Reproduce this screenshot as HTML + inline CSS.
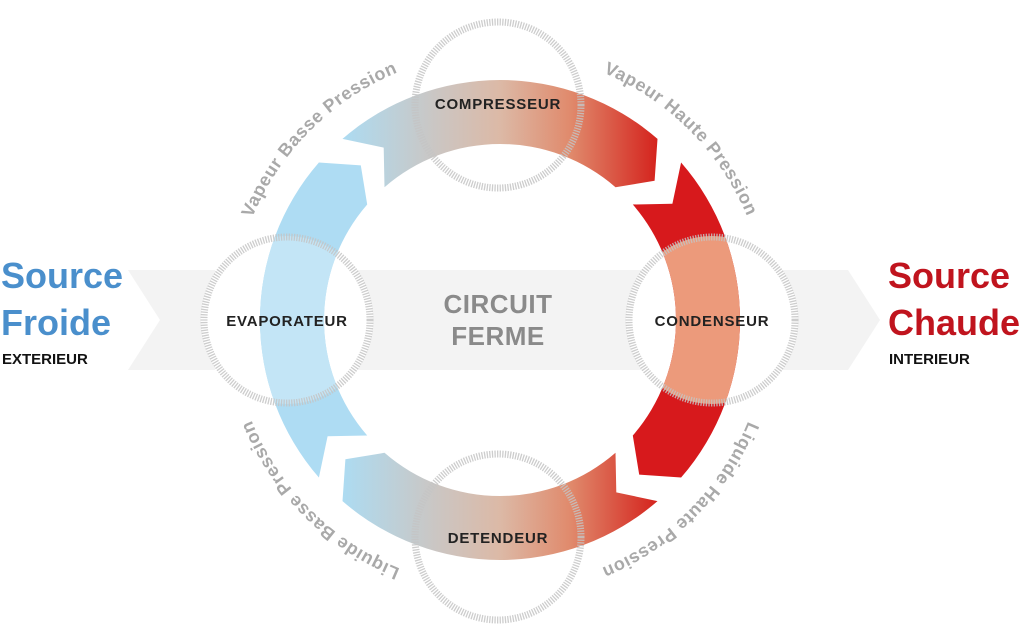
<!DOCTYPE html>
<html><head><meta charset="utf-8"><style>
html,body{margin:0;padding:0;background:#fff}
svg{display:block}
text{font-family:"Liberation Sans",sans-serif;font-weight:bold}
</style></head><body>
<svg width="1024" height="643" viewBox="0 0 1024 643" xmlns="http://www.w3.org/2000/svg">
<defs>
<linearGradient id="gt" gradientUnits="userSpaceOnUse" x1="340" y1="0" x2="660" y2="0">
<stop offset="0" stop-color="#acdcf3"/><stop offset="0.3" stop-color="#cbc6c3"/><stop offset="0.5" stop-color="#dcb9a6"/><stop offset="0.72" stop-color="#e08a6c"/><stop offset="1" stop-color="#d4201b"/></linearGradient>
<linearGradient id="gb" gradientUnits="userSpaceOnUse" x1="340" y1="0" x2="660" y2="0">
<stop offset="0" stop-color="#acdcf3"/><stop offset="0.3" stop-color="#cbc6c3"/><stop offset="0.5" stop-color="#dcb9a6"/><stop offset="0.72" stop-color="#e08a6c"/><stop offset="1" stop-color="#d4201b"/></linearGradient>
<clipPath id="cl"><path d="M318.9,477.5 A240,240 0 0 1 318.9,162.5 L360.8,165.4 L367.2,204.5 A176,176 0 0 0 367.2,435.5 L327.6,436.3 Z"/></clipPath>
<clipPath id="cr"><path d="M681.1,162.5 A240,240 0 0 1 681.1,477.5 L639.2,474.6 L632.8,435.5 A176,176 0 0 0 632.8,204.5 L672.4,203.7 Z"/></clipPath>
<path id="p1" d="M236.1,273.5 A268,268 0 0 1 453.5,56.1"/>
<path id="p2" d="M546.5,56.1 A268,268 0 0 1 763.9,273.5"/>
<path id="p3" d="M763.9,366.5 A268,268 0 0 1 546.5,583.9"/>
<path id="p4" d="M453.5,583.9 A268,268 0 0 1 236.1,366.5"/>
</defs>
<polygon points="128,270 215,270 215,370 128,370 160,320" fill="#f3f3f3"/>
<rect x="330" y="270" width="340" height="100" fill="#f3f3f3"/>
<polygon points="780,270 848,270 880,320 848,370 780,370" fill="#f3f3f3"/>
<g fill="#fff">
<circle cx="498" cy="105" r="86"/><circle cx="287" cy="320" r="86"/><circle cx="712" cy="320" r="86"/><circle cx="498" cy="537" r="86"/>
</g>
<path d="M318.9,477.5 A240,240 0 0 1 318.9,162.5 L360.8,165.4 L367.2,204.5 A176,176 0 0 0 367.2,435.5 L327.6,436.3 Z" fill="#aedcf3"/>
<path d="M342.5,138.9 A240,240 0 0 1 657.5,138.9 L654.6,180.8 L615.5,187.2 A176,176 0 0 0 384.5,187.2 L383.7,147.6 Z" fill="url(#gt)"/>
<path d="M681.1,162.5 A240,240 0 0 1 681.1,477.5 L639.2,474.6 L632.8,435.5 A176,176 0 0 0 632.8,204.5 L672.4,203.7 Z" fill="#d7191c"/>
<path d="M657.5,501.1 A240,240 0 0 1 342.5,501.1 L345.4,459.2 L384.5,452.8 A176,176 0 0 0 615.5,452.8 L616.3,492.4 Z" fill="url(#gb)"/>
<circle cx="287" cy="320" r="84" fill="#c3e5f6" clip-path="url(#cl)"/>
<circle cx="712" cy="320" r="84" fill="#ec9a7b" clip-path="url(#cr)"/>
<g fill="none" stroke="#c4c4c4" stroke-width="7" stroke-dasharray="1.3 1.3" opacity="0.85">
<circle cx="498" cy="105" r="83"/><circle cx="287" cy="320" r="83"/><circle cx="712" cy="320" r="83"/><circle cx="498" cy="537" r="83"/>
</g>
<g font-size="15" fill="#222" text-anchor="middle" letter-spacing="0.8">
<text x="498" y="109">COMPRESSEUR</text>
<text x="287" y="326">EVAPORATEUR</text>
<text x="712" y="326">CONDENSEUR</text>
<text x="498" y="543">DETENDEUR</text>
</g>
<g font-size="26" fill="#8a8a8a" text-anchor="middle" letter-spacing="0.5">
<text x="498" y="313">CIRCUIT</text>
<text x="498" y="345">FERME</text>
</g>
<g font-size="18" fill="#a9a9a9" letter-spacing="0.6">
<text><textPath href="#p1" startOffset="50%" text-anchor="middle">Vapeur Basse Pression</textPath></text>
<text><textPath href="#p2" startOffset="50%" text-anchor="middle">Vapeur Haute Pression</textPath></text>
<text><textPath href="#p3" startOffset="50%" text-anchor="middle">Liquide Haute Pression</textPath></text>
<text><textPath href="#p4" startOffset="50%" text-anchor="middle">Liquide Basse Pression</textPath></text>
</g>
<g font-size="36" fill="#4a8fcc"><text x="1" y="288">Source</text><text x="1" y="335">Froide</text></g>
<text x="2" y="364" font-size="15" fill="#111">EXTERIEUR</text>
<g font-size="36" fill="#c0141e"><text x="888" y="288">Source</text><text x="888" y="335">Chaude</text></g>
<text x="889" y="364" font-size="15" fill="#111">INTERIEUR</text>
</svg>
</body></html>
